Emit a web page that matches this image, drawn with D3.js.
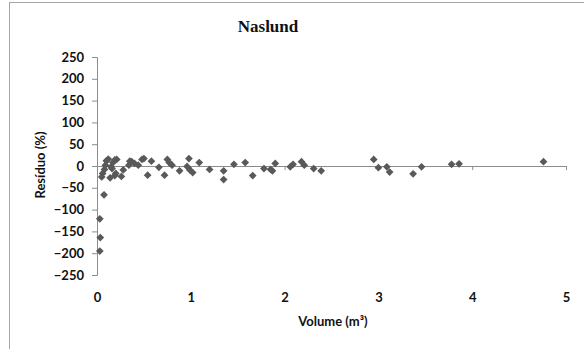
<!DOCTYPE html>
<html><head><meta charset="utf-8">
<script src="https://cdn.jsdelivr.net/npm/d3@7"></script>
<style>
html,body{margin:0;padding:0;background:#fff;}
svg{display:block;}
.tick text{font-family:Lato,"Open Sans",sans-serif;font-weight:bold;font-size:13px;fill:#111;}
</style></head>
<body>
<svg id="chart" width="584" height="349"></svg>
<script>
const title = "Naslund";
const xLabel = "Volume (m³)";
const yLabel = "Resíduo (%)";
const xTicks = [0, 1, 2, 3, 4, 5];
const yTicks = [-250, -200, -150, -100, -50, 0, 50, 100, 150, 200, 250];
const volume = [0.03,0.035,0.03,0.075,
  0.05,0.06,0.08,0.09,0.10,0.12,
  0.14,0.15,0.16,0.17,0.19,0.21,0.19,0.20,
  0.26,0.28,
  0.34,0.35,0.37,0.40,0.44,0.48,0.50,0.54,0.58,
  0.66,0.72,0.75,0.77,0.80,
  0.88,0.96,0.98,0.99,1.02,1.09,1.20,
  1.35,1.35,1.46,1.58,1.66,
  1.78,1.85,1.87,1.90,
  2.06,2.09,2.18,2.21,2.31,2.39,
  2.95,3.00,3.09,3.12,3.37,3.46,3.78,3.86,4.76];
const residuo = [-121,-164,-195,-66,
  -25,-17,-8,2,12,16,
  -27,-2,-6,8,14,15,-22,-17,
  -24,-9,
  2,11,10,6,2,15,17,-21,11,
  -3,-21,15,8,2,
  -11,-1,17,-9,-15,8,-8,
  -11,-31,4,8,-22,
  -6,-8,-11,6,
  -2,4,10,2,-6,-11,
  15,-4,-2,-14,-18,-2,4,5,10];

const svg = d3.select("#chart");
svg.append("rect").attr("x",9.5).attr("y",2.5).attr("width",590).attr("height",360)
  .attr("fill","#fff").attr("stroke","#a6a6a6").attr("stroke-width",1);

const x = d3.scaleLinear().domain([0,5]).range([97,566]);
const y = d3.scaleLinear().domain([-250,250]).range([275,57]);
const axisColor = "#8c8c8c";

// y axis
const gy = svg.append("g").attr("transform",`translate(${x(0)},0)`)
  .call(d3.axisLeft(y).tickValues(yTicks).tickSize(5).tickSizeOuter(5).tickPadding(8));
gy.select(".domain").attr("stroke",axisColor);
gy.selectAll(".tick line").attr("stroke",axisColor);

// x axis line at zero
const gx = svg.append("g").attr("transform",`translate(0,${y(0)})`)
  .call(d3.axisBottom(x).tickValues(xTicks).tickSize(4).tickSizeOuter(4).tickFormat(""));
gx.select(".domain").attr("stroke",axisColor);
gx.selectAll(".tick line").attr("stroke",axisColor);

// x labels at bottom
const gxl = svg.append("g").attr("transform",`translate(0,${y(-250)})`)
  .call(d3.axisBottom(x).tickValues(xTicks).tickSize(0).tickPadding(18).tickFormat(d3.format("d")));
gxl.select(".domain").remove();

// points
const sym = d3.symbol().type(d3.symbolSquare).size(30);
svg.append("g").selectAll("path").data(volume.map((v,i)=>[v,residuo[i]])).join("path")
  .attr("d",sym)
  .attr("transform",d=>`translate(${x(d[0])},${y(d[1])}) rotate(45)`)
  .attr("fill","#595959");

svg.append("text").attr("x",268).attr("y",32).attr("text-anchor","middle")
  .attr("font-family","'Liberation Serif',serif").attr("font-weight","bold")
  .attr("font-size",17).attr("fill","#111").text(title);

svg.append("text").attr("x",333).attr("y",326).attr("text-anchor","middle")
  .attr("font-family","Lato,'Open Sans',sans-serif").attr("font-weight","bold")
  .attr("font-size",13).attr("fill","#111").text(xLabel);

svg.append("text").attr("transform","translate(45,165) rotate(-90)").attr("text-anchor","middle")
  .attr("font-family","Lato,'Open Sans',sans-serif").attr("font-weight","bold")
  .attr("font-size",13).attr("fill","#111").text(yLabel);
</script>
</body></html>
